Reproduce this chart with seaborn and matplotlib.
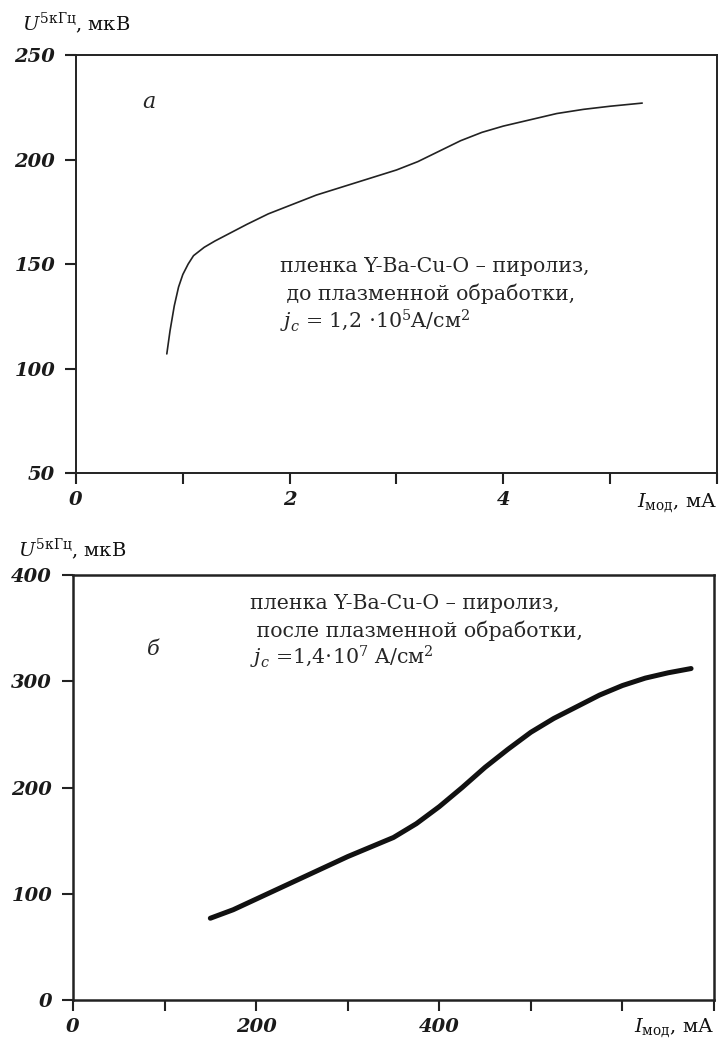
import matplotlib
matplotlib.use("Agg")
import matplotlib.pyplot as plt
import seaborn as sns
import pandas as pd

# Panel (а): before plasma treatment, current in mA
cur_a = [0.85, 0.88, 0.92, 0.96, 1.00, 1.05, 1.10, 1.20, 1.30, 1.45, 1.60, 1.80, 2.00,
         2.25, 2.50, 2.75, 3.00, 3.20, 3.40, 3.60, 3.80, 4.00, 4.25, 4.50, 4.75, 5.00, 5.30]
sig_a = [107, 118, 130, 139, 145, 150, 154, 158, 161, 165, 169, 174, 178,
         183, 187, 191, 195, 199, 204, 209, 213, 216, 219, 222, 224, 225.5, 227]

# Panel (б): after plasma treatment, current in mA
cur_b = [150, 175, 200, 225, 250, 275, 300, 325, 350, 375, 400, 425, 450,
         475, 500, 525, 550, 575, 600, 625, 650, 675]
sig_b = [77, 85, 95, 105, 115, 125, 135, 144, 153, 166, 182, 200, 219,
         236, 252, 265, 276, 287, 296, 303, 308, 312]

xticks_a = [0, 1, 2, 3, 4, 5, 6]
xlabels_a = ["0", "", "2", "", "4", "", ""]
yticks_a = [50, 100, 150, 200, 250]

xticks_b = [0, 100, 200, 300, 400, 500, 600, 700]
xlabels_b = ["0", "", "200", "", "400", "", "", ""]
yticks_b = [0, 100, 200, 300, 400]

ylabel = r"$U^{\mathrm{5кГц}}$, мкВ"
xlabel = r"$I_{\mathrm{мод}}$, мА"
note_a = ["пленка Y-Ba-Cu-O – пиролиз,",
          " до плазменной обработки,",
          r"$j_c$ = 1,2 $\cdot$10$^5$A/см$^2$"]
note_b = ["пленка Y-Ba-Cu-O – пиролиз,",
          " после плазменной обработки,",
          r"$j_c$ =1,4$\cdot$10$^7$ A/см$^2$"]

sns.set_style("ticks")
plt.rcParams["font.family"] = ["DejaVu Serif", "Liberation Serif"]
plt.rcParams["mathtext.fontset"] = "dejavuserif"

fig = plt.figure(figsize=(7.19, 10.44), dpi=100)
ax_a = fig.add_axes([0.1057, 0.5469, 0.8915, 0.4004])
ax_b = fig.add_axes([0.1015, 0.0421, 0.8915, 0.4071])

df_a = pd.DataFrame({"I": cur_a, "U": sig_a})
df_b = pd.DataFrame({"I": cur_b, "U": sig_b})
sns.lineplot(data=df_a, x="I", y="U", ax=ax_a, color="#222222", linewidth=1.2)
sns.lineplot(data=df_b, x="I", y="U", ax=ax_b, color="#111111", linewidth=3.6)

tick_font = dict(fontsize=14, fontweight="bold", fontstyle="italic", color="#1a1a1a")


def style_axes(ax, xt, xl, yt, lw, xlab_y, ylab_y):
    ax.set_xlim(xt[0], xt[-1])
    ax.set_ylim(yt[0], yt[-1])
    ax.set_xticks(xt)
    ax.set_xticklabels(xl, **tick_font)
    ax.set_yticks(yt)
    ax.set_yticklabels([str(v) for v in yt], **tick_font)
    ax.tick_params(axis="x", direction="out", length=8, width=1.5, pad=5, color="#222222")
    ax.tick_params(axis="y", direction="out", length=8, width=1.5, pad=7, color="#222222")
    for s in ax.spines.values():
        s.set_visible(True)
        s.set_linewidth(lw)
        s.set_color("#222222")
    ax.set_xlabel("")
    ax.set_ylabel("")
    ax.text(1.0, xlab_y, xlabel, transform=ax.transAxes, ha="right", va="center",
            fontsize=14, color="#111111")
    ax.text(-0.085, ylab_y, ylabel, transform=ax.transAxes, ha="left", va="bottom",
            fontsize=14, color="#111111")


style_axes(ax_a, xticks_a, xlabels_a, yticks_a, 1.4, -0.07, 1.045)
style_axes(ax_b, xticks_b, xlabels_b, yticks_b, 1.8, -0.065, 1.03)

ax_a.text(0.103, 0.888, "а", transform=ax_a.transAxes, fontsize=16,
          fontstyle="italic", ha="left", va="center")
ax_b.text(0.115, 0.824, "б", transform=ax_b.transAxes, fontsize=15,
          fontstyle="italic", ha="left", va="center")

for i, line in enumerate(note_a):
    ax_a.text(0.318, 0.495 - i * 0.066, line, transform=ax_a.transAxes, fontsize=14.8,
              ha="left", va="center")
for i, line in enumerate(note_b):
    ax_b.text(0.276, 0.934 - i * 0.064, line, transform=ax_b.transAxes, fontsize=14.8,
              ha="left", va="center")

fig.savefig("out.png", dpi=100, facecolor="white")
